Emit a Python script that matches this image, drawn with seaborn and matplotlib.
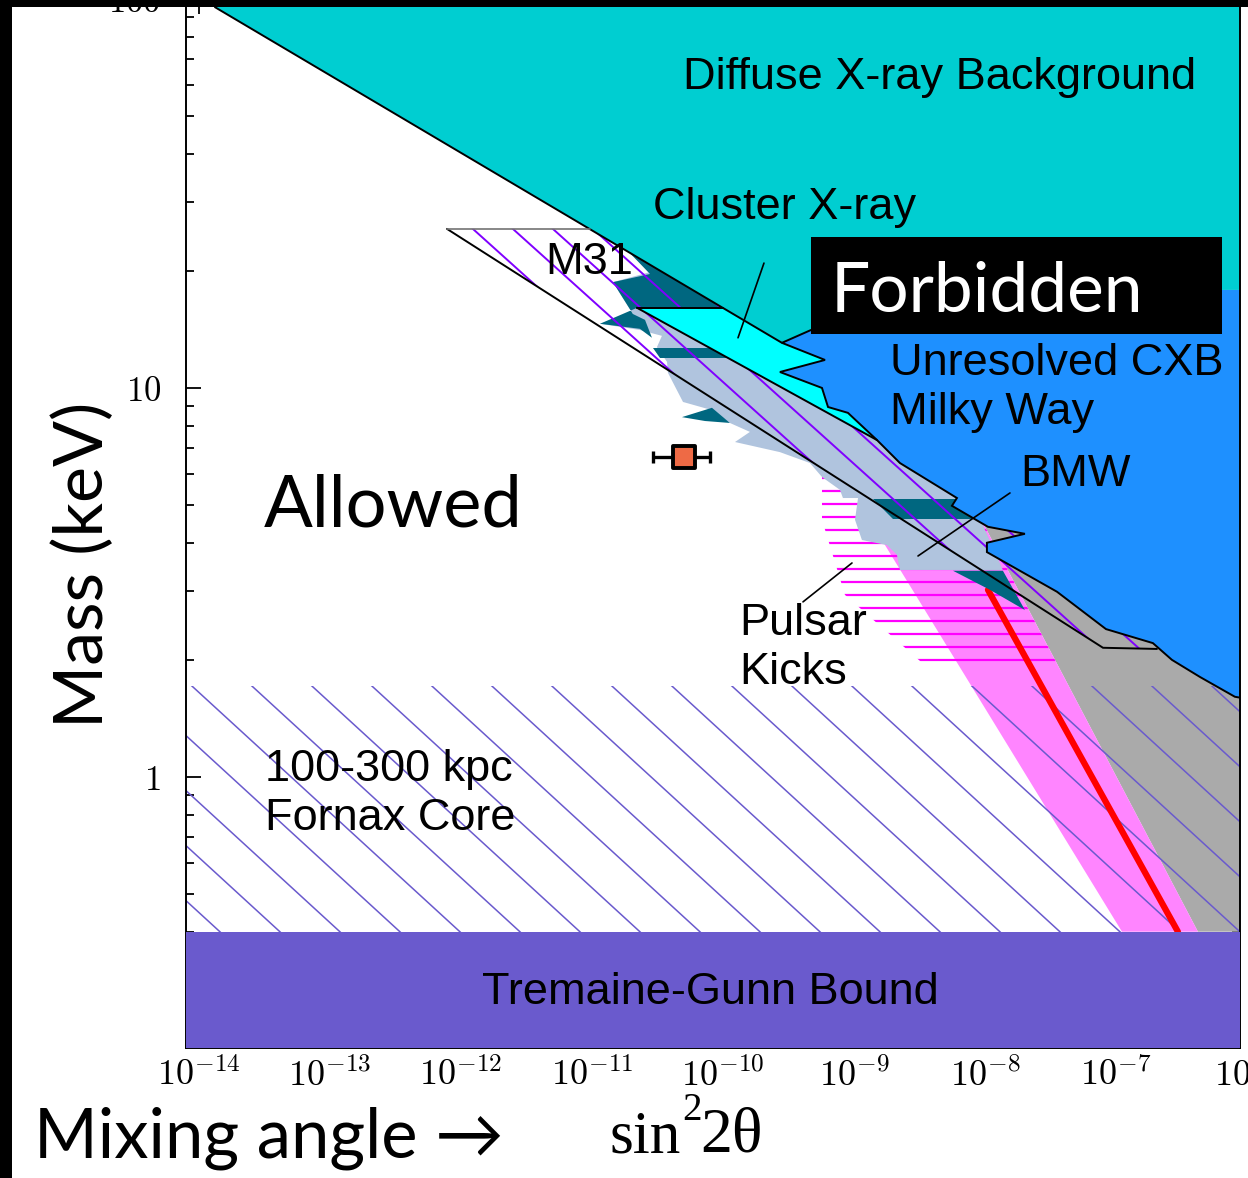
import numpy as np
import matplotlib
matplotlib.use("Agg")
import matplotlib.pyplot as plt
import seaborn as sns
from matplotlib.patches import Polygon, Rectangle
from matplotlib.collections import LineCollection
from matplotlib.ticker import LogLocator, FuncFormatter, NullFormatter

# values: log10(sin^2 2theta) and log10(mass / keV)
x_range = [-14.099, -6.053]
m_range = [-0.697, 2.0]

dxb_lx = [-13.878, -9.550, -9.328, -6.191, -5.9, -5.9, -13.878]
dxb_lm = [1.979, 1.116, 1.149, 1.252, 1.252, 2.2, 2.2]

# Milky Way / unresolved CXB boundary
cxb_edge_lx = [-9.328, -9.550, -9.221, -9.565, -9.244, -9.198, -9.046, -8.824, -8.649,
               -8.214, -8.252, -7.977, -7.695, -7.985, -7.985, -7.450, -7.076, -6.718,
               -6.573, -6.359, -6.092, -5.9]
cxb_edge_lm = [1.149, 1.116, 1.072, 1.041, 1.000, 0.951, 0.936, 0.866, 0.807,
               0.717, 0.697, 0.643, 0.625, 0.602, 0.578, 0.476, 0.380, 0.344,
               0.301, 0.257, 0.206, 0.195]
cxb_top_lm = 1.252

cluster_lx = [-10.656, -10.000, -9.550, -9.221, -9.565, -9.244, -9.198, -9.046, -8.824]
cluster_lm = [1.206, 1.206, 1.116, 1.072, 1.041, 1.000, 0.951, 0.936, 0.866]

m31_lx = [-12.107, -11.015, -6.053, -6.053, -6.687, -7.099]
m31_lm = [1.409, 1.409, 0.419, 0.329, 0.329, 0.332]

gray_lx = [-8.015, -7.9, -5.9, -5.9, -6.374]
gray_lm = [0.653, 0.75, 0.75, -0.398, -0.398]

pink_lx = [-8.992, -8.763, -6.954, -6.374, -8.015, -8.115]
pink_lm = [0.738, 0.596, -0.398, -0.398, 0.653, 0.738]

pulsar_lx = [-9.244, -9.244, -9.069, -8.489, -7.458, -8.015, -8.115]
pulsar_lm = [0.784, 0.661, 0.468, 0.296, 0.296, 0.653, 0.784]

bmw_lx = [-10.740, -9.550, -7.962, -8.023, -7.863, -8.649, -8.672, -8.748, -8.939, -8.992,
          -8.969, -9.084, -9.107, -9.244, -9.336, -9.565, -9.908, -9.794, -9.947, -10.084,
          -10.305, -10.420, -10.427, -10.504, -10.466, -10.634, -10.939, -10.687, -10.840,
          -10.557]
bmw_lm = [1.355, 1.116, 0.815, 0.653, 0.532, 0.532, 0.571, 0.596, 0.609, 0.661,
          0.717, 0.717, 0.738, 0.771, 0.807, 0.835, 0.861, 0.887, 0.910, 0.943,
          0.964, 1.039, 1.067, 1.105, 1.134, 1.149, 1.165, 1.190, 1.272, 1.298]

teal_lx = [
    [-10.725, -10.000, -10.656, -10.939, -10.634, -10.542, -10.595, -10.687, -10.840, -10.557],
    [-10.534, -9.718, -9.718, -10.481],
    [-10.313, -10.084, -9.947, -10.137],
    [-8.855, -7.962, -7.962, -8.702],
    [-8.244, -7.863, -7.695, -7.962],
]
teal_lm = [
    [1.352, 1.206, 1.206, 1.165, 1.152, 1.129, 1.175, 1.190, 1.272, 1.293],
    [1.103, 1.103, 1.077, 1.077],
    [0.925, 0.949, 0.910, 0.915],
    [0.715, 0.715, 0.663, 0.663],
    [0.530, 0.530, 0.429, 0.481],
]

red_lx = [-7.977, -6.527]
red_lm = [0.481, -0.398]

fornax_top_m = 1.71
tg_top_m = 0.40

pt_x, pt_m = 5.0e-11, 6.65
pt_xlo, pt_xhi = 2.9e-11, 8.0e-11

# ---- figure ----
W, H = 1248, 1178
sns.set_style("ticks")
plt.rcParams["mathtext.fontset"] = "cm"
plt.rcParams["font.family"] = ["Liberation Sans", "DejaVu Sans"]
plt.rcParams["text.color"] = "black"
plt.rcParams["xtick.color"] = "black"
plt.rcParams["ytick.color"] = "black"

fig = plt.figure(figsize=(W / 100, H / 100), dpi=100)


def fx(px):
    return px / W


def fy(py):
    return 1 - py / H


ax = fig.add_axes([fx(186), fy(1048), fx(1240) - fx(186), fy(-1) - fy(1048)])
ax.set_xscale("log")
ax.set_yscale("log")
ax.set_xlim(10 ** x_range[0], 10 ** x_range[1])
ax.set_ylim(10 ** m_range[0], 10 ** m_range[1])
ax.autoscale(False)


def poly(lx, lm, **kw):
    xy = np.column_stack([10 ** np.asarray(lx), 10 ** np.asarray(lm)])
    return Polygon(xy, closed=True, **kw)


def fill(lx, lm, color, z):
    ax.add_patch(poly(lx, lm, facecolor=color, edgecolor="none", zorder=z))


def hatch(lx, lm, anchor, step, slope, color, lw, z):
    clip = poly(lx, lm, facecolor="none", edgecolor="none")
    ax.add_patch(clip)
    segs = []
    for k in range(-60, 61):
        if slope is None:
            yy = anchor[1] + k * step
            segs.append([(fx(0), fy(yy)), (fx(W), fy(yy))])
        else:
            x0, y0 = anchor[0] + k * step, anchor[1]
            L = 1600
            segs.append([(fx(x0 - L), fy(y0 - L * slope)), (fx(x0 + L), fy(y0 + L * slope))])
    lc = LineCollection(segs, colors=color, linewidths=lw, transform=fig.transFigure, zorder=z)
    ax.add_collection(lc, autolim=False)
    lc.set_clip_path(clip)


def edge(lx, lm, **kw):
    ax.plot(10 ** np.asarray(lx), 10 ** np.asarray(lm), solid_joinstyle="miter", **kw)


fill(gray_lx, gray_lm, "#aaaaaa", 1.0)
fill(pink_lx, pink_lm, "#ff85ff", 1.1)
hatch(pulsar_lx, pulsar_lm, (0, 478), 13, None, "#ff00ff", 1.6, 1.2)

lf = np.log10(fornax_top_m)
lt = np.log10(tg_top_m)
hatch([x_range[0] - 1, x_range[1] + 1, x_range[1] + 1, x_range[0] - 1], [lt, lt, lf, lf],
      (193, 687), 60, 0.917, "#6a5acd", 1.1, 1.3)

sns.lineplot(x=10 ** np.asarray(red_lx), y=10 ** np.asarray(red_lm), color="#ff0000",
             linewidth=4.5, ax=ax, zorder=1.4)

fill(bmw_lx, bmw_lm, "#b0c4de", 1.5)
for tx, tm in zip(teal_lx, teal_lm):
    fill(tx, tm, "#006780", 1.6)

hatch(m31_lx, m31_lm, (473, 229), 40, 0.9, "#8000ff", 1.4, 1.7)
fill(cluster_lx, cluster_lm, "#00ffff", 1.8)
fill(dxb_lx, dxb_lm, "#00ced1", 1.9)

cxb_lx = cxb_edge_lx + [-5.9, -6.191]
cxb_lm = cxb_edge_lm + [cxb_top_lm, cxb_top_lm]
fill(cxb_lx, cxb_lm, "#1e90ff", 2.0)

# outlines
edge(dxb_lx[:2], dxb_lm[:2], color="black", lw=1.4, zorder=2.5)
edge(cxb_edge_lx, cxb_edge_lm, color="black", lw=1.4, zorder=2.5)
edge([cluster_lx[0], cluster_lx[1]], [cluster_lm[0], cluster_lm[1]], color="black", lw=1.4, zorder=2.5)
edge([cluster_lx[0], cluster_lx[-1]], [cluster_lm[0], cluster_lm[-1]], color="black", lw=1.4, zorder=2.5)
edge([m31_lx[0], m31_lx[-1], m31_lx[-2]], [m31_lm[0], m31_lm[-1], m31_lm[-2]],
     color="black", lw=1.4, zorder=2.5)
edge(m31_lx[:2], m31_lm[:2], color="0.45", lw=1.2, zorder=2.5)

ax.axhspan(10 ** m_range[0], tg_top_m, color="#6a5acd", lw=0, zorder=3)

# leader lines
for (a, b), (c, d) in [((-9.687, 1.321), (-9.885, 1.129)),
                       ((-7.809, 0.730), (-8.511, 0.568)),
                       ((-9.389, 0.450), (-9.015, 0.550))]:
    ax.plot([10 ** a, 10 ** c], [10 ** b, 10 ** d], color="black", lw=1.2, zorder=2.6)

# data point
ax.errorbar([pt_x], [pt_m], xerr=[[pt_x - pt_xlo], [pt_xhi - pt_x]], fmt="none",
            ecolor="black", elinewidth=2.4, capsize=4, capthick=2.4, zorder=3.4)
sns.scatterplot(x=[pt_x], y=[pt_m], marker="s", s=270, color="#ee6a45",
                edgecolor="black", linewidth=2.8, ax=ax, zorder=3.5)

# axes styling
for s in ax.spines.values():
    s.set_linewidth(1.4)
    s.set_color("black")
ax.xaxis.set_major_locator(LogLocator(base=10, numticks=30))
ax.xaxis.set_minor_locator(LogLocator(base=10, subs=np.arange(2, 10), numticks=300))
ax.yaxis.set_major_locator(LogLocator(base=10, numticks=30))
ax.yaxis.set_minor_locator(LogLocator(base=10, subs=np.arange(2, 10), numticks=300))
ax.xaxis.set_major_formatter(FuncFormatter(lambda v, p: r"$10^{%d}$" % round(np.log10(v))))
ax.yaxis.set_major_formatter(FuncFormatter(lambda v, p: r"$%d$" % round(v)))
ax.xaxis.set_minor_formatter(NullFormatter())
ax.yaxis.set_minor_formatter(NullFormatter())
ax.tick_params(which="both", direction="in", top=True, right=True, width=1.3, color="black")
ax.tick_params(which="major", length=11)
ax.tick_params(which="minor", length=5.5)
ax.tick_params(axis="x", which="major", labelsize=26, pad=8)
ax.tick_params(axis="y", which="major", labelsize=25, pad=18)
ax.set_xlabel("")
ax.set_ylabel("")
fig.text(fx(1249), fy(1059), r"$10^{-6}$", ha="center", va="top", size=26)

# labels inside the plot
arial = ["Liberation Sans", "DejaVu Sans"]
gothic = ["Lato", "DejaVu Sans"]
asz = 32.5
fig.text(fx(940), fy(78), "Diffuse X-ray Background", ha="center", va="center", size=asz, family=arial)
fig.text(fx(653), fy(208), "Cluster X-ray", ha="left", va="center", size=asz, family=arial)
fig.text(fx(545), fy(262), "M31", ha="left", va="center", size=asz, family=arial)
fig.text(fx(890), fy(363), "Unresolved CXB", ha="left", va="center", size=asz, family=arial)
fig.text(fx(890), fy(413), "Milky Way", ha="left", va="center", size=asz, family=arial)
fig.text(fx(1020), fy(474), "BMW", ha="left", va="center", size=asz, family=arial)
fig.text(fx(739), fy(623), "Pulsar", ha="left", va="center", size=asz, family=arial)
fig.text(fx(739), fy(673), "Kicks", ha="left", va="center", size=asz, family=arial)
fig.text(fx(265), fy(769), "100-300 kpc", ha="left", va="center", size=asz, family=arial)
fig.text(fx(265), fy(818), "Fornax Core", ha="left", va="center", size=asz, family=arial)
fig.text(fx(710), fy(992), "Tremaine-Gunn Bound", ha="center", va="center", size=asz, family=arial)
fig.text(fx(264), fy(506), "Allowed", ha="left", va="center", size=52, family=gothic)

fig.add_artist(Rectangle((fx(811), fy(334)), fx(1222) - fx(811), fy(237) - fy(334),
                         transform=fig.transFigure, facecolor="black", edgecolor="none", zorder=4))
fig.text(fx(831), fy(293), "Forbidden", ha="left", va="center", size=50, family=gothic,
         color="white", zorder=5)

fig.text(fx(84), fy(565), "Mass (keV)", rotation=90, ha="center", va="center", size=49, family=gothic)
fig.text(fx(34), fy(1138), "Mixing angle \u2192", ha="left", va="center", size=49.5, family=gothic)

serif = ["Liberation Serif", "DejaVu Serif"]
fig.text(fx(609), fy(1138), "sin", ha="left", va="center", size=44, family=serif)
fig.text(fx(682), fy(1110), "2", ha="left", va="center", size=28, family=serif)
fig.text(fx(700), fy(1137), "2\u03b8", ha="left", va="center", size=46, family=serif)

# black frame strips on the left and top
fig.add_artist(Rectangle((0, 0), fx(12), 1, transform=fig.transFigure,
                         facecolor="black", edgecolor="none", zorder=10))
fig.add_artist(Rectangle((0, fy(7)), 1, 1 - fy(7), transform=fig.transFigure,
                         facecolor="black", edgecolor="none", zorder=10))

fig.savefig("out.png", dpi=100)
plt.close(fig)
